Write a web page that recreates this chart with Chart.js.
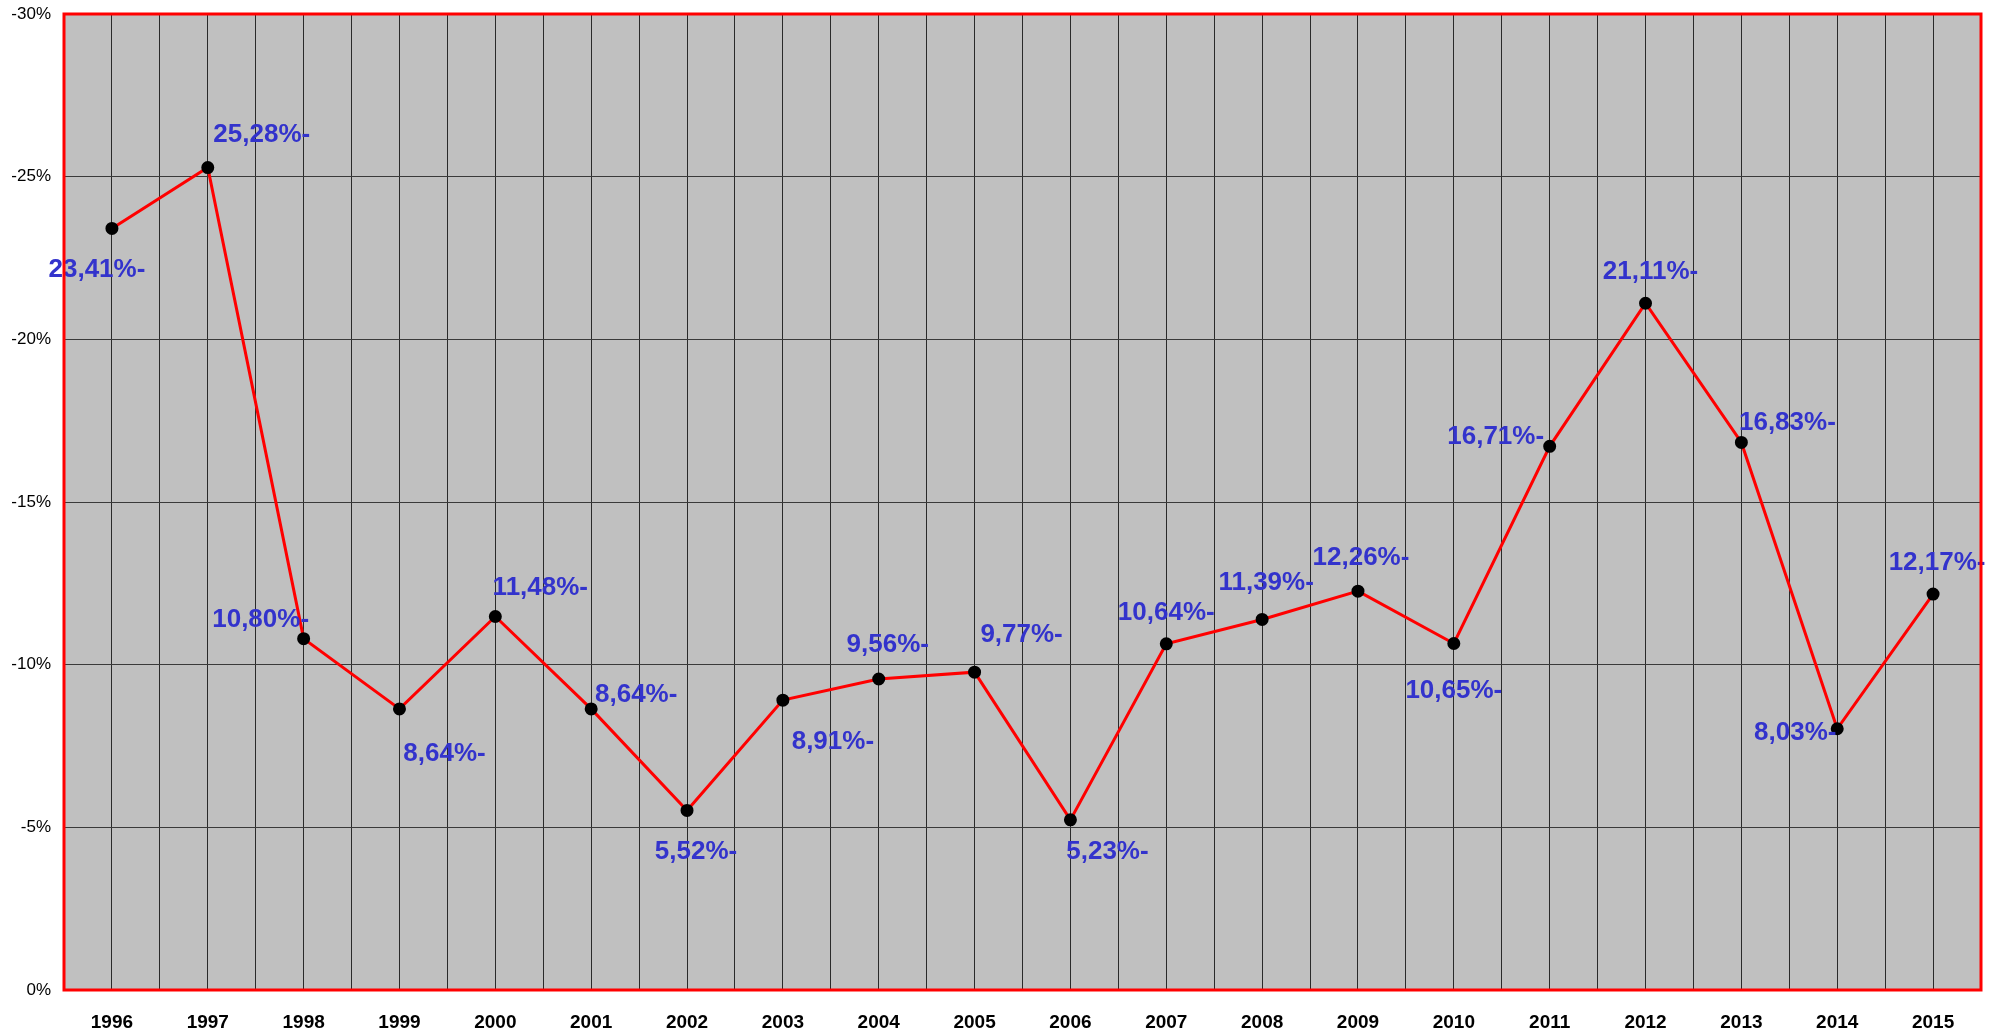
<!DOCTYPE html>
<html>
<head>
<meta charset="utf-8">
<script src="https://cdn.jsdelivr.net/npm/chart.js@4.4.1/dist/chart.umd.min.js"></script>
<style>
  body { margin: 0; background: #fff; }
  #wrap { width: 1999px; height: 1036px; }
</style>
</head>
<body>
<div id="wrap"><canvas id="grafico"></canvas></div>
<script>
// --- DATOS ---
const years = ['1996', '1997', '1998', '1999', '2000', '2001', '2002', '2003', '2004', '2005',
               '2006', '2007', '2008', '2009', '2010', '2011', '2012', '2013', '2014', '2015'];
const values = [-23.41, -25.28, -10.80, -8.64, -11.48, -8.64, -5.52, -8.91, -9.56, -9.77,
                -5.23, -10.64, -11.39, -12.26, -10.65, -16.71, -21.11, -16.83, -8.03, -12.17];
const yTicks = [-30, -25, -20, -15, -10, -5, 0];

// desplazamiento de cada etiqueta respecto a su punto (px)
const labelOffsets = [
  [-15, 41], [54, -33], [-43, -19], [45, 45], [45, -29], [45, -14], [9, 41], [50, 42], [9, -34], [47, -37],
  [37, 32], [0, -31], [4, -37], [3, -33], [0, 47], [-54, -10], [5, -31], [46, -20], [-42, 4], [4, -31]
];

const formatoEtiqueta = v => Math.abs(v).toFixed(2).replace('.', ',') + '%-';

// --- PLUGIN: fondo gris y borde rojo ---
const areaPlugin = {
  id: 'area',
  beforeDraw(chart) {
    const { ctx, chartArea: a } = chart;
    ctx.save();
    ctx.fillStyle = '#c0c0c0';
    ctx.fillRect(a.left, a.top, a.right - a.left, a.bottom - a.top);
    ctx.restore();
  },
  afterDraw(chart) {
    const { ctx, chartArea: a } = chart;
    ctx.save();
    ctx.strokeStyle = '#ff0000';
    ctx.lineWidth = 3;
    ctx.strokeRect(a.left, a.top, a.right - a.left, a.bottom - a.top);
    ctx.restore();
  }
};

// --- PLUGIN: etiquetas de valores ---
const etiquetasPlugin = {
  id: 'etiquetas',
  afterDatasetsDraw(chart) {
    const { ctx } = chart;
    const meta = chart.getDatasetMeta(0);
    ctx.save();
    ctx.font = 'bold 26px "Liberation Sans", Arial, sans-serif';
    ctx.fillStyle = '#3333cc';
    ctx.textAlign = 'center';
    ctx.textBaseline = 'middle';
    meta.data.forEach((pt, i) => {
      const off = labelOffsets[i];
      ctx.fillText(formatoEtiqueta(values[i]), pt.x + off[0], pt.y + off[1]);
    });
    ctx.restore();
  }
};

const sinRelleno = scale => {
  scale.paddingTop = 0; scale.paddingBottom = 0;
  scale.paddingLeft = 0; scale.paddingRight = 0;
};

const ctx = document.getElementById('grafico').getContext('2d');
new Chart(ctx, {
  type: 'line',
  data: {
    datasets: [{
      data: values.map((v, i) => ({ x: i, y: v })),
      borderColor: '#ff0000',
      borderWidth: 3,
      pointBackgroundColor: '#000',
      pointBorderColor: '#000',
      pointRadius: 5,
      tension: 0
    }]
  },
  options: {
    responsive: true,
    maintainAspectRatio: false,
    animation: false,
    layout: { padding: { top: 14, right: 18, left: 0, bottom: 0 } },
    plugins: { legend: { display: false }, tooltip: { enabled: false } },
    scales: {
      x: {
        type: 'linear',
        min: -0.5,
        max: years.length - 0.5,
        afterBuildTicks(scale) {
          const t = [];
          for (let v = -0.5; v <= years.length - 0.5; v += 0.5) t.push({ value: v });
          scale.ticks = t;
        },
        afterFit(scale) { scale.height = 46; sinRelleno(scale); },
        grid: { color: '#2a2a2a', lineWidth: 1, drawTicks: false },
        border: { display: false },
        ticks: {
          autoSkip: false,
          maxRotation: 0,
          padding: 21,
          color: '#000',
          font: { family: '"Liberation Sans", Arial, sans-serif', size: 19, weight: 'bold' },
          callback: v => Number.isInteger(v) ? years[v] : ''
        }
      },
      y: {
        min: -30,
        max: 0,
        reverse: true,
        afterBuildTicks(scale) { scale.ticks = yTicks.map(v => ({ value: v })); },
        afterFit(scale) { scale.width = 64; sinRelleno(scale); },
        grid: { color: '#3a3a3a', lineWidth: 1, drawTicks: false },
        border: { display: false },
        ticks: {
          padding: 13,
          color: '#000',
          font: { family: '"Liberation Sans", Arial, sans-serif', size: 17 },
          callback: v => v + '%'
        }
      }
    }
  },
  plugins: [areaPlugin, etiquetasPlugin]
});
</script>
</body>
</html>
